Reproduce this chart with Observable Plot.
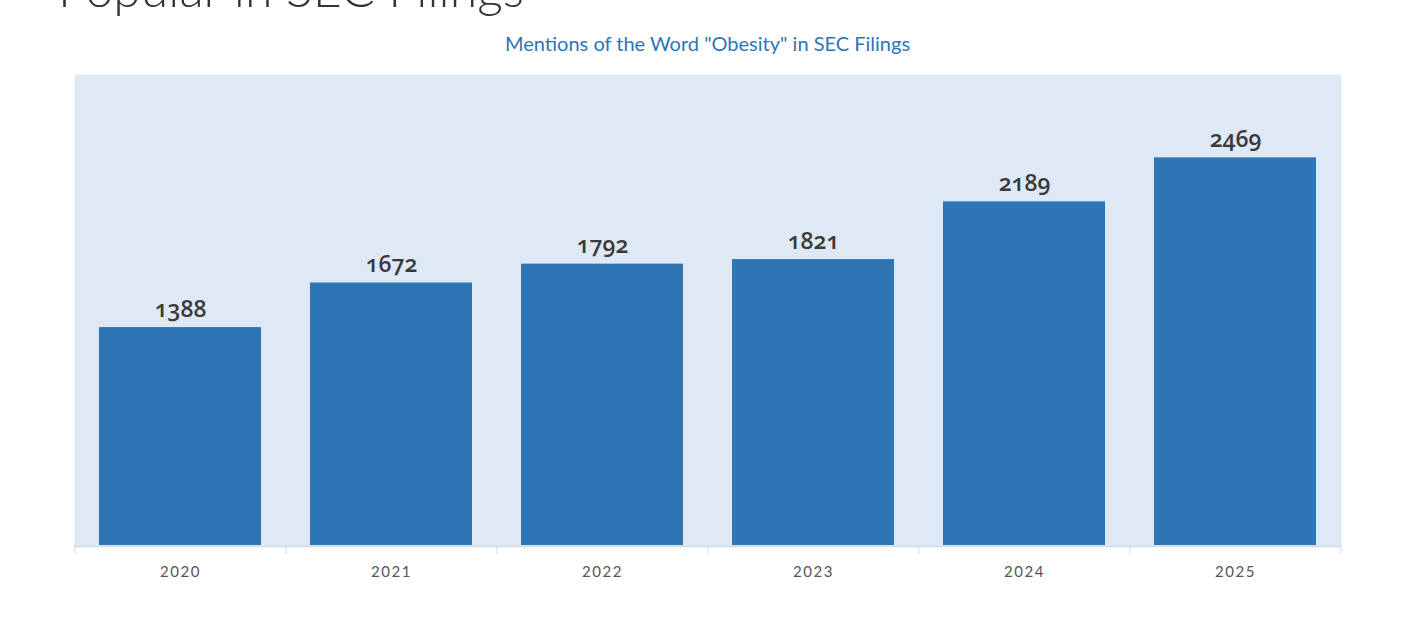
<!DOCTYPE html>
<html>
<head>
<meta charset="utf-8">
<script src="https://cdn.jsdelivr.net/npm/d3@7"></script>
<script src="https://cdn.jsdelivr.net/npm/@observablehq/plot@0.6"></script>
<style>
  body { margin: 0; background: #fff; width: 1401px; height: 620px; overflow: hidden; position: relative; font-family: Lato, "Open Sans", sans-serif; }
  #title { position: absolute; left: 58px; top: -42px; font-size: 50px; font-weight: 300; color: #333; white-space: nowrap; }
  #subtitle { height: 60px; box-sizing: border-box; padding-top: 31px; padding-left: 14px; text-align: center; font-size: 20px; color: #2e75b6; line-height: 24px; }
</style>
</head>
<body>
<div id="title">Popular in SEC Filings</div>
<div id="subtitle">Mentions of the Word "Obesity" in SEC Filings</div>
<div id="chart"></div>
<script>
const years = ["2020", "2021", "2022", "2023", "2024", "2025"];
const mentions = [1388, 1672, 1792, 1821, 2189, 2469];
const data = years.map((y, i) => ({year: y, value: mentions[i]}));

const W = 1401, H = 560;
const mL = 74, mR = 60, mT = 14, mB = 75;
const step = (W - mL - mR) / years.length;

const chart = Plot.plot({
  width: W,
  height: H,
  marginLeft: mL,
  marginRight: mR,
  marginTop: mT,
  marginBottom: mB,
  style: {fontFamily: "Lato, 'Open Sans', sans-serif", background: "transparent"},
  x: {domain: years, paddingInner: 0.232, paddingOuter: 0.116, label: null},
  y: {domain: [0, 3000], axis: null},
  marks: [
    Plot.frame({fill: "#dfe9f5", stroke: null, insetBottom: -1}),
    Plot.barY(data, {x: "year", y: "value", fill: "#2e75b6"}),
    Plot.ruleY([0], {stroke: "#d3d9e0", strokeWidth: 1.5, dy: 1}),
    Plot.axisX(years, {tickSize: 8, tickFormat: () => "", dx: -step / 2, stroke: "#d3d9e0", dy: 1}),
    Plot.axisX([years[years.length - 1]], {tickSize: 8, tickFormat: () => "", dx: step / 2, stroke: "#d3d9e0", dy: 1}),
    Plot.axisX({tickSize: 0, tickPadding: 21, fontSize: 15, fill: "#555", label: null}),
    Plot.text(data, {x: "year", y: "value", text: d => String(d.value), lineAnchor: "bottom", dy: -11, fontSize: 23, fontWeight: 600, fill: "#3a3a3a", fontFamily: "'Open Sans', Lato, sans-serif"})
  ]
});
d3.select(chart).selectAll("[aria-label='x-axis tick label'] text").style("letter-spacing", "1.5px");
d3.select(chart).selectAll("[aria-label='text'] text").style("font-variant-numeric", "oldstyle-nums").style("font-feature-settings", "'onum' 1");
document.getElementById("chart").appendChild(chart);
</script>
</body>
</html>
